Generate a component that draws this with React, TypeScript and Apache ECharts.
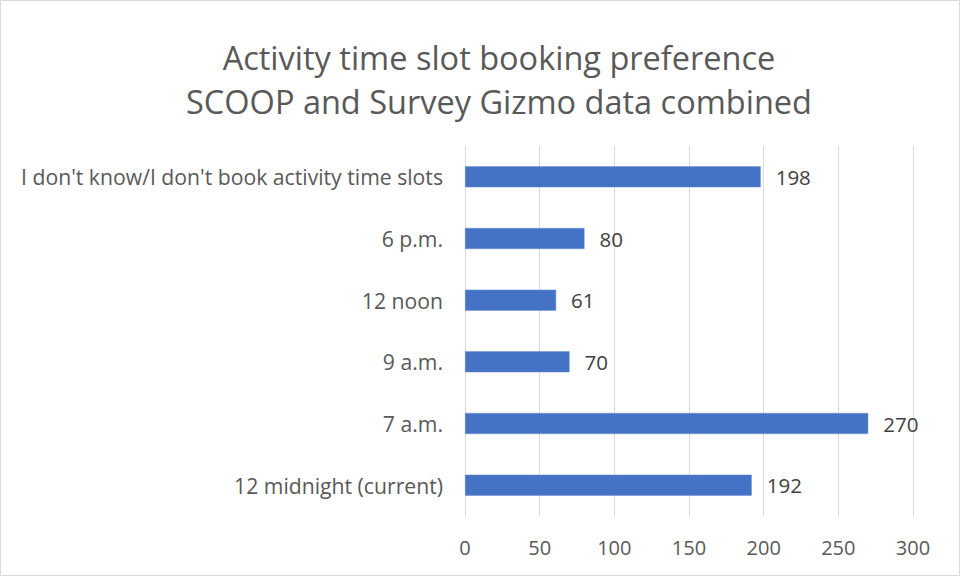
import React, { useEffect, useRef } from "react";
import * as echarts from "echarts";

const categories = [
  "12 midnight (current)",
  "7 a.m.",
  "9 a.m.",
  "12 noon",
  "6 p.m.",
  "I don't know/I don't book activity time slots",
];
const values = [192, 270, 70, 61, 80, 198];
const titleLines = ["Activity time slot booking preference", "SCOOP and Survey Gizmo data combined"];
const xTicks = { min: 0, max: 300, interval: 50 };

export default function App() {
  const ref = useRef<HTMLDivElement>(null);
  useEffect(() => {
    document.body.style.margin = "0";
    const chart = echarts.init(ref.current!, null, { renderer: "svg" });
    const font = "'Open Sans', 'Noto Sans', sans-serif";
    chart.setOption({
      animation: false,
      backgroundColor: "#ffffff",
      title: {
        text: titleLines.join("\n"),
        left: 494,
        textAlign: "center",
        top: 30,
        textStyle: {
          fontFamily: font,
          fontSize: 32.5,
          fontWeight: "normal",
          color: "#595959",
          lineHeight: 44,
        },
      },
      graphic: [
        {
          type: "rect",
          shape: { x: 0.5, y: 0.5, width: 959, height: 575 },
          style: { fill: "none", stroke: "#d9d9d9", lineWidth: 1 },
          silent: true,
        },
      ],
      grid: { left: 465, right: 48, top: 146, bottom: 61 },
      xAxis: {
        type: "value",
        min: xTicks.min,
        max: xTicks.max,
        interval: xTicks.interval,
        axisLine: { show: false },
        axisTick: { show: false },
        splitLine: { lineStyle: { color: "#d9d9d9", width: 1 } },
        axisLabel: { fontFamily: font, fontSize: 20, color: "#595959", margin: 21 },
      },
      yAxis: {
        type: "category",
        data: categories,
        axisLine: { show: false },
        axisTick: { show: false },
        axisLabel: { fontFamily: font, fontSize: 21.2, color: "#595959", margin: 22 },
      },
      series: [
        {
          type: "bar",
          data: values,
          barWidth: 21,
          itemStyle: { color: "#4472c4", borderColor: "#6d8fd0", borderWidth: 0.5 },
          label: {
            show: true,
            position: "right",
            distance: 15,
            fontFamily: font,
            fontSize: 20.5,
            color: "#404040",
          },
        },
      ],
    });
    return () => chart.dispose();
  }, []);
  return <div ref={ref} style={{ position: "fixed", left: 0, top: 0, width: 961, height: 577 }} />;
}
